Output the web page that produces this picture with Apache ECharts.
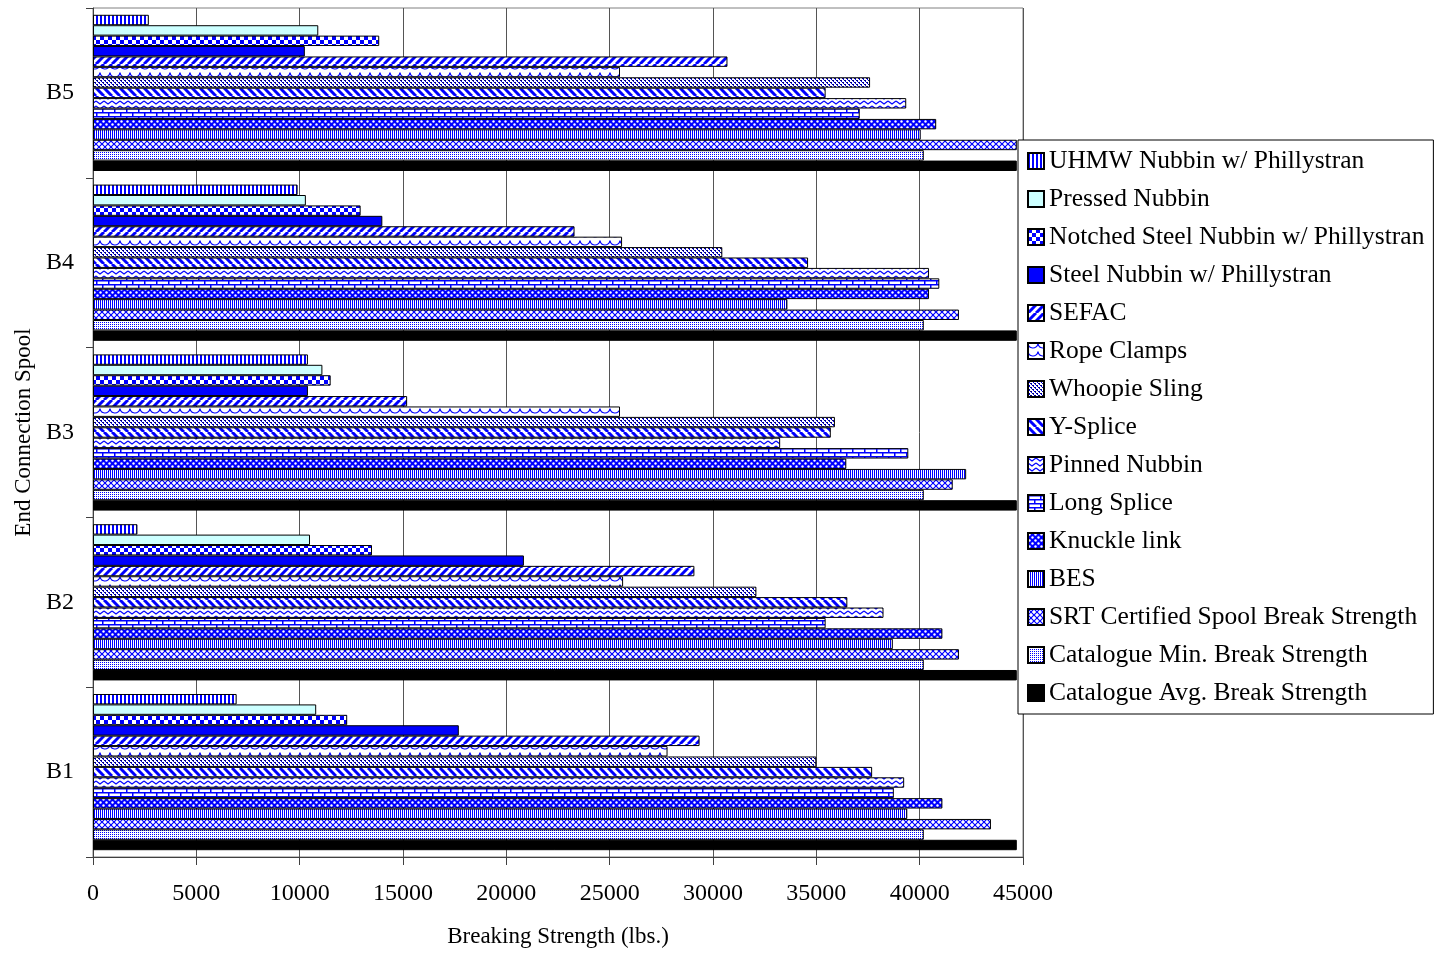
<!DOCTYPE html>
<html><head><meta charset="utf-8">
<script src="https://cdn.jsdelivr.net/npm/echarts@6/dist/echarts.min.js"></script>
<style>html,body{margin:0;padding:0;background:#fff}#c{width:1437px;height:954px}</style>
</head><body><div id="c"></div>
<script>
// ---------- data ----------
const categories = ['B1', 'B2', 'B3', 'B4', 'B5'];
const seriesNames = [
  'UHMW Nubbin w/ Phillystran',
  'Pressed Nubbin',
  'Notched Steel Nubbin w/ Phillystran',
  'Steel Nubbin w/ Phillystran',
  'SEFAC',
  'Rope Clamps',
  'Whoopie Sling',
  'Y-Splice',
  'Pinned Nubbin',
  'Long Splice',
  'Knuckle link',
  'BES',
  'SRT Certified Spool Break Strength',
  'Catalogue Min. Break Strength',
  'Catalogue Avg. Break Strength'
];
const uhmwNubbin         = [6950, 2150, 10400, 9900, 2700];
const pressedNubbin      = [10800, 10500, 11100, 10300, 10900];
const notchedSteelNubbin = [12300, 13500, 11500, 12950, 13850];
const steelNubbin        = [17700, 20850, 10400, 14000, 10250];
const sefac              = [29350, 29100, 15200, 23300, 30700];
const ropeClamps         = [27800, 25650, 25500, 25600, 25500];
const whoopieSling       = [35000, 32100, 35900, 30450, 37600];
const ySplice            = [37700, 36500, 35700, 34600, 35450];
const pinnedNubbin       = [39250, 38250, 33250, 40450, 39350];
const longSplice         = [38750, 35450, 39450, 40950, 37100];
const knuckleLink        = [41100, 41100, 36450, 40450, 40800];
const bes                = [39400, 38700, 42250, 33600, 40050];
const srtCertified       = [43450, 41900, 41600, 41900, 44700];
const catalogueMin       = [40200, 40200, 40200, 40200, 40200];
const catalogueAvg       = [44700, 44700, 44700, 44700, 44700];
const xMin = 0, xMax = 45000, xStep = 5000;

const seriesValues = [uhmwNubbin, pressedNubbin, notchedSteelNubbin, steelNubbin, sefac,
  ropeClamps, whoopieSling, ySplice, pinnedNubbin, longSplice, knuckleLink, bes,
  srtCertified, catalogueMin, catalogueAvg];

// ---------- fill patterns (style only) ----------
const BLUE = '#0000ff';
function pat(w, h, draw) {
  const c = document.createElement('canvas');
  c.width = w; c.height = h;
  const g = c.getContext('2d');
  g.fillStyle = '#fff'; g.fillRect(0, 0, w, h);
  draw(g, w, h);
  return { image: c, repeat: 'repeat' };
}
function diag(g, s, forward, lw, color) {
  g.strokeStyle = color; g.lineWidth = lw; g.beginPath();
  for (let k = -1; k <= 1; k++) {
    if (forward) { g.moveTo(k * s, s); g.lineTo(k * s + s, 0); }
    else { g.moveTo(k * s, 0); g.lineTo(k * s + s, s); }
  }
  g.stroke();
}
const fills = [
  pat(4, 4, g => { g.fillStyle = BLUE; g.fillRect(0, 0, 2, 4); }),
  '#ccffff',
  pat(8, 8, g => { g.fillStyle = BLUE; g.fillRect(0, 0, 4, 4); g.fillRect(4, 4, 4, 4); }),
  BLUE,
  pat(8, 8, g => diag(g, 8, true, 3, BLUE)),
  pat(10, 8, g => { g.strokeStyle = BLUE; g.lineWidth = 1.2; g.beginPath(); g.arc(5, 0, 5, 0.1, Math.PI - 0.1); g.stroke(); }),
  pat(4, 4, g => { g.fillStyle = '#000080'; g.fillRect(0, 0, 2, 1); g.fillRect(2, 2, 2, 1); g.fillStyle = BLUE; g.fillRect(1, 1, 1, 1); g.fillRect(3, 3, 1, 1); }),
  pat(8, 8, g => diag(g, 8, false, 3, BLUE)),
  pat(8, 5, g => { g.strokeStyle = BLUE; g.lineWidth = 1.2; g.beginPath(); g.moveTo(0, 1); g.lineTo(4, 4); g.lineTo(8, 1); g.stroke(); }),
  pat(12, 8, g => { g.fillStyle = BLUE; g.fillRect(0, 0, 12, 1.5); g.fillRect(0, 4, 12, 1.5); g.fillRect(0, 0, 1.5, 4); g.fillRect(6, 4, 1.5, 4); }),
  pat(6, 6, g => { g.fillStyle = BLUE; g.fillRect(0, 0, 6, 6); g.fillStyle = '#fff';
    g.beginPath(); g.arc(1.5, 1.5, 1.2, 0, Math.PI * 2); g.fill();
    g.beginPath(); g.arc(4.5, 4.5, 1.2, 0, Math.PI * 2); g.fill(); }),
  pat(2, 2, g => { g.fillStyle = BLUE; g.fillRect(0, 0, 1, 2); }),
  pat(6, 6, g => { diag(g, 6, true, 1.2, BLUE); diag(g, 6, false, 1.2, BLUE); }),
  pat(2, 2, g => { g.fillStyle = BLUE; g.fillRect(0, 0, 1, 1); }),
  '#000000'
];

const FONT = "'Liberation Serif', 'Times New Roman', serif";

const series = seriesNames.map((name, i) => ({
  name: name,
  type: 'bar',
  data: seriesValues[i],
  barGap: '0%',
  barCategoryGap: '8%',
  itemStyle: { color: fills[i], borderColor: '#000', borderWidth: 1 },
  emphasis: { disabled: true }
}));

const chart = echarts.init(document.getElementById('c'), null, { renderer: 'canvas' });
chart.setOption({
  animation: false,
  backgroundColor: '#fff',
  grid: {
    left: 93, right: 414, top: 8, bottom: 97,
    show: true, borderColor: '#808080', borderWidth: 1, backgroundColor: 'transparent',
    containLabel: false, outerBoundsMode: 'none'
  },
  legend: {
    data: seriesNames,
    orient: 'vertical',
    left: 1018, top: 140,
    padding: [8, 9, 8, 9],
    itemGap: 12,
    itemWidth: 16, itemHeight: 16,
    icon: 'rect',
    borderColor: '#000', borderWidth: 1,
    backgroundColor: '#fff',
    selectedMode: false,
    textStyle: { fontFamily: FONT, fontSize: 25.5, color: '#000', lineHeight: 26 }
  },
  xAxis: {
    type: 'value',
    min: xMin, max: xMax, interval: xStep,
    axisLine: { show: true, lineStyle: { color: '#404040', width: 1 } },
    axisTick: { show: true, inside: false, length: 8, lineStyle: { color: '#404040' } },
    splitLine: { show: true, lineStyle: { color: '#555', width: 1 } },
    axisLabel: { margin: 25, fontFamily: FONT, fontSize: 24, color: '#000',
      formatter: v => String(v) },
    name: 'Breaking Strength (lbs.)',
    nameLocation: 'middle', nameGap: 68,
    nameTextStyle: { fontFamily: FONT, fontSize: 23, color: '#000' }
  },
  yAxis: {
    type: 'category',
    data: categories,
    axisLine: { show: true, lineStyle: { color: '#404040', width: 1 } },
    axisTick: { show: true, inside: false, length: 7, lineStyle: { color: '#404040' } },
    splitLine: { show: false },
    axisLabel: { margin: 19, fontFamily: FONT, fontSize: 24, color: '#000' },
    name: 'End Connection Spool',
    nameLocation: 'middle', nameRotate: 90, nameGap: 58,
    nameTextStyle: { fontFamily: FONT, fontSize: 23, color: '#000' }
  },
  series: series
});
</script>
</body></html>
